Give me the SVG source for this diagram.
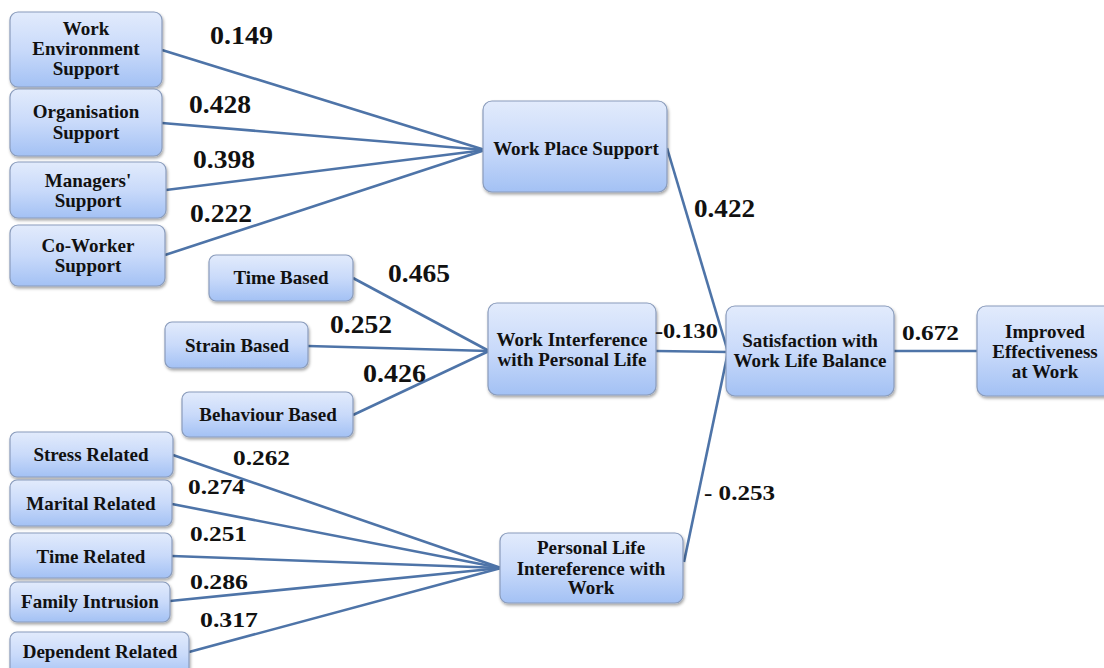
<svg xmlns="http://www.w3.org/2000/svg" width="1104" height="668" viewBox="0 0 1104 668">
<defs>
<linearGradient id="g" x1="0" y1="0" x2="0" y2="1">
<stop offset="0" stop-color="#e2ebfc"/>
<stop offset="0.5" stop-color="#c9dafa"/>
<stop offset="1" stop-color="#a3c1f4"/>
</linearGradient>
<filter id="sh" x="-10%" y="-10%" width="130%" height="140%">
<feDropShadow dx="1" dy="2" stdDeviation="1.5" flood-color="#000" flood-opacity="0.35"/>
</filter>
</defs>
<style>
.n rect{fill:url(#g);stroke:#8a9cbc;stroke-width:1.2;filter:url(#sh)}
.n text{font-family:"Liberation Serif","Times New Roman",serif;font-weight:bold;font-size:19px;fill:#111;text-anchor:middle}
.c line{stroke:#4e74a8;stroke-width:2.6}
.w{font-family:"Liberation Serif","Times New Roman",serif;font-weight:bold;fill:#111}
.u{font-size:25px}
.l{font-size:21px}
</style>
<rect width="1104" height="668" fill="#fff"/>
<g class="c" id="connectors">
<line x1="162" y1="50" x2="485" y2="150"/>
<line x1="162" y1="123" x2="485" y2="150"/>
<line x1="166" y1="190" x2="485" y2="150"/>
<line x1="165" y1="255" x2="485" y2="150"/>
<line x1="353" y1="278" x2="489" y2="351"/>
<line x1="308" y1="346" x2="489" y2="351"/>
<line x1="353" y1="415" x2="489" y2="351"/>
<line x1="173" y1="455" x2="501" y2="568"/>
<line x1="172" y1="504" x2="501" y2="568"/>
<line x1="172" y1="556" x2="501" y2="568"/>
<line x1="170" y1="601" x2="501" y2="568"/>
<line x1="189" y1="652" x2="501" y2="568"/>
<line x1="667" y1="148" x2="728" y2="352"/>
<line x1="656" y1="351" x2="728" y2="352"/>
<line x1="684" y1="562" x2="728" y2="352"/>
<line x1="894" y1="351" x2="978" y2="351"/>
</g>
<g id="wes" class="n"><rect x="10" y="12" width="152" height="75" rx="8"/><text x="86" y="35">Work</text><text x="86" y="55">Environment</text><text x="86" y="75">Support</text></g>
<g id="os" class="n"><rect x="10" y="89" width="152" height="67" rx="8"/><text x="86" y="118">Organisation</text><text x="86" y="139">Support</text></g>
<g id="ms" class="n"><rect x="10" y="162" width="156" height="56" rx="8"/><text x="88" y="187">Managers'</text><text x="88" y="207">Support</text></g>
<g id="cws" class="n"><rect x="10" y="225" width="155" height="61" rx="8"/><text x="88" y="252">Co-Worker</text><text x="88" y="272">Support</text></g>
<g id="tb" class="n"><rect x="209" y="255" width="144" height="46" rx="7"/><text x="281" y="284">Time Based</text></g>
<g id="sb" class="n"><rect x="165" y="322" width="143" height="46" rx="7"/><text x="237" y="352">Strain Based</text></g>
<g id="bb" class="n"><rect x="182" y="392" width="171" height="45" rx="7"/><text x="268" y="421">Behaviour Based</text></g>
<g id="sr" class="n"><rect x="10" y="432" width="163" height="45" rx="7"/><text x="91" y="461">Stress Related</text></g>
<g id="mr" class="n"><rect x="10" y="480" width="162" height="46" rx="7"/><text x="91" y="510">Marital Related</text></g>
<g id="tr" class="n"><rect x="10" y="533" width="162" height="45" rx="7"/><text x="91" y="563">Time Related</text></g>
<g id="fi" class="n"><rect x="10" y="582" width="160" height="40" rx="7"/><text x="90" y="608">Family Intrusion</text></g>
<g id="dr" class="n"><rect x="10" y="632" width="179" height="46" rx="7"/><text x="100" y="658">Dependent Related</text></g>
<g id="wps" class="n"><rect x="483" y="101" width="184" height="91" rx="9"/><text x="576" y="155">Work Place Support</text></g>
<g id="wipl" class="n"><rect x="488" y="303" width="168" height="92" rx="9"/><text x="572" y="346">Work Interference</text><text x="572" y="366">with Personal Life</text></g>
<g id="pliw" class="n"><rect x="500" y="533" width="183" height="70" rx="8"/><text x="591" y="554">Personal Life</text><text x="591" y="575">Intereference with</text><text x="591" y="594">Work</text></g>
<g id="swlb" class="n"><rect x="726" y="306" width="168" height="90" rx="9"/><text x="810" y="347">Satisfaction with</text><text x="810" y="367">Work Life Balance</text></g>
<g id="iew" class="n"><rect x="977" y="306" width="140" height="90" rx="9"/><text x="1045" y="338">Improved</text><text x="1045" y="358">Effectiveness</text><text x="1045" y="378">at Work</text></g>
<g id="labels">
<text class="w u" x="210" y="44" textLength="63" lengthAdjust="spacingAndGlyphs">0.149</text>
<text class="w u" x="189" y="113" textLength="62" lengthAdjust="spacingAndGlyphs">0.428</text>
<text class="w u" x="193" y="168" textLength="62" lengthAdjust="spacingAndGlyphs">0.398</text>
<text class="w u" x="190" y="222" textLength="62" lengthAdjust="spacingAndGlyphs">0.222</text>
<text class="w u" x="388" y="282" textLength="62" lengthAdjust="spacingAndGlyphs">0.465</text>
<text class="w u" x="330" y="333" textLength="62" lengthAdjust="spacingAndGlyphs">0.252</text>
<text class="w u" x="363" y="382" textLength="63" lengthAdjust="spacingAndGlyphs">0.426</text>
<text class="w l" x="233" y="465" textLength="57" lengthAdjust="spacingAndGlyphs">0.262</text>
<text class="w l" x="188" y="494" textLength="57" lengthAdjust="spacingAndGlyphs">0.274</text>
<text class="w l" x="190" y="541" textLength="57" lengthAdjust="spacingAndGlyphs">0.251</text>
<text class="w l" x="190" y="589" textLength="58" lengthAdjust="spacingAndGlyphs">0.286</text>
<text class="w l" x="200" y="627" textLength="58" lengthAdjust="spacingAndGlyphs">0.317</text>
<text class="w u" x="694" y="217" textLength="61" lengthAdjust="spacingAndGlyphs">0.422</text>
<text class="w l" x="655" y="338" textLength="63" lengthAdjust="spacingAndGlyphs">-0.130</text>
<text class="w l" x="704" y="500" textLength="71" lengthAdjust="spacingAndGlyphs">- 0.253</text>
<text class="w l" x="902" y="340" textLength="57" lengthAdjust="spacingAndGlyphs">0.672</text>
</g>
</svg>
